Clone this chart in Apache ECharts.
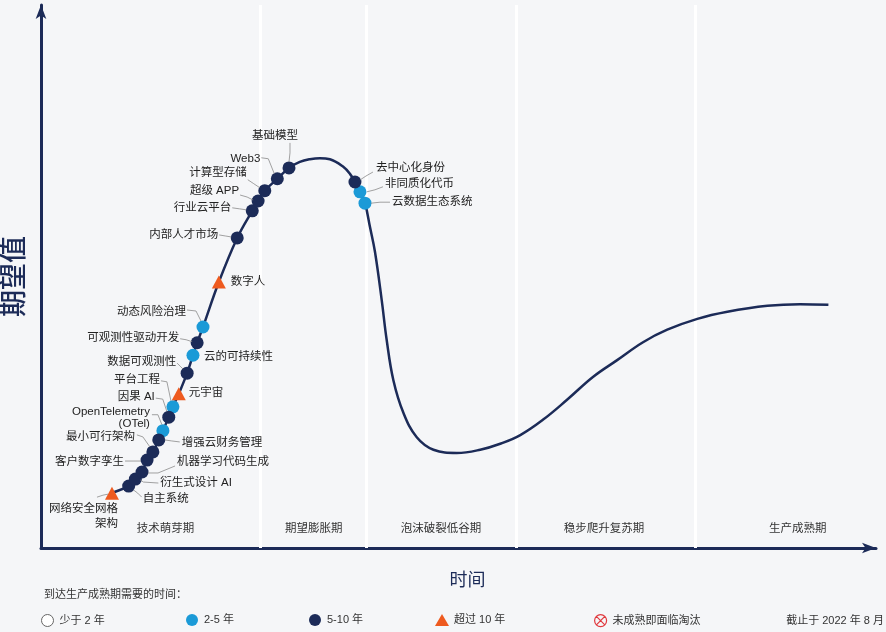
<!DOCTYPE html>
<html>
<head>
<meta charset="utf-8">
<script src="https://cdn.jsdelivr.net/npm/echarts@6/dist/echarts.min.js"></script>
<style>
html,body{margin:0;padding:0;background:#f5f6f8;}
#chart{width:886px;height:632px;}
</style>
</head>
<body>
<div id="chart"></div>
<script>
// ---------------- data ----------------
// hype curve (time 0-100, expectation 0-100)
const curveTime = [8.3,8.5,10.5,11.3,12.1,12.7,13.4,14.1,14.6,15.3,15.8,16.5,17.5,18.2,18.7,19.4,21.3,23.5,25.3,26.0,26.8,28.3,29.7,31.0,32.2,33.4,34.6,36.2,37.0,37.6,38.2,38.8,39.4,40.0,40.8,41.4,42.2,43.4,45.0,47.0,49.8,52.6,55.0,57.4,60.1,63.0,66.1,69.0,72.1,75.0,78.6,82.2,87.0,90.9,94.3];
const curveExpect = [9.8,10.1,11.4,12.7,14.0,16.2,17.7,19.9,21.6,24.1,26.0,28.4,32.2,35.5,37.8,40.7,49.0,57.1,62.1,63.9,65.8,68.0,70.0,71.1,71.6,71.8,71.6,70.2,68.9,67.4,65.6,63.5,59.1,54.5,45.7,38.3,30.9,24.9,20.4,18.1,17.5,18.1,19.2,20.8,23.6,27.3,31.5,34.6,37.9,40.2,42.2,43.5,44.6,44.9,44.8];

const techNames = ['网络安全网格\n架构','自主系统','衍生式设计 AI','机器学习代码生成','客户数字孪生','最小可行架构','增强云财务管理','OpenTelemetry\n(OTel)','因果 AI','平台工程','元宇宙','数据可观测性','云的可持续性','可观测性驱动开发','动态风险治理','数字人','内部人才市场','行业云平台','超级 APP','计算型存储','Web3','基础模型','去中心化身份','非同质化代币','云数据生态系统'];
const techTime = [8.5,10.5,11.3,12.1,12.7,13.4,14.1,14.6,15.3,15.8,16.5,17.5,18.2,18.7,19.4,21.3,23.5,25.3,26.0,26.8,28.3,29.7,37.6,38.2,38.8];
const techExpect = [10.1,11.4,12.7,14.0,16.2,17.7,19.9,21.6,24.1,26.0,28.4,32.2,35.5,37.8,40.7,49.0,57.1,62.1,63.9,65.8,68.0,70.0,67.4,65.6,63.5];
const techMaturity = ['超过 10 年','5-10 年','5-10 年','5-10 年','5-10 年','5-10 年','5-10 年','2-5 年','5-10 年','2-5 年','超过 10 年','5-10 年','2-5 年','5-10 年','2-5 年','超过 10 年','5-10 年','5-10 年','5-10 年','5-10 年','5-10 年','5-10 年','5-10 年','2-5 年','2-5 年'];

const phaseNames = ['技术萌芽期','期望膨胀期','泡沫破裂低谷期','稳步爬升复苏期','生产成熟期'];
const phaseBounds = [0, 26.2, 38.9, 56.9, 78.4, 100];

const legendNames = ['少于 2 年','2-5 年','5-10 年','超过 10 年','未成熟即面临淘汰'];

// ---------------- styling / layout ----------------
const FONT = "'Liberation Sans','Noto Sans CJK SC',sans-serif";
const NAVY = '#1c2b58';
const BLUE = '#1b9ad7';
const ORANGE = '#ee5a1f';
// label anchor offset (px from marker centre), alignment, leader polyline (px offsets)
const LABEL_LAYOUT = [
  [6, 23, 'right', [[-15,4],[-9,2],[-4,1]]],
  [14, 13, 'left', [[13,11],[9,7],[5,4]]],
  [25, 4, 'left', [[23,4],[8,3],[5,1]]],
  [35, -10, 'left', [[33,-6],[16,1],[6,1]]],
  [-23, 2, 'right', [[-22,1],[-14,1],[-6,1]]],
  [-18, -15, 'right', [[-16,-17],[-10,-15],[-3,-5]]],
  [23, 3, 'left', [[21,2],[13,1],[6,0]]],
  [-13, -13, 'right', [[-11,-16],[-5,-16],[-1,-6]]],
  [-14, -20, 'right', [[-13,-19],[-6,-18],[-2,-6]]],
  [-13, -27, 'right', [[-12,-26],[-6,-25],[-2,-6]]],
  [10, -1, 'left', null],
  [-11, -11, 'right', [[-10,-10],[-7,-7],[-4,-4]]],
  [11, 2, 'left', null],
  [-18, -5, 'right', [[-17,-4],[-11,-3],[-5,-1]]],
  [-17, -15, 'right', [[-16,-17],[-7,-16],[-2,-6]]],
  [12, 0, 'left', null],
  [-19, -3, 'right', [[-18,-3],[-12,-2],[-6,-1]]],
  [-21, -3, 'right', [[-20,-3],[-13,-2],[-6,-1]]],
  [-19, -10, 'right', [[-18,-6],[-11,-4],[-5,-1]]],
  [-18, -18, 'right', [[-17,-11],[-11,-7],[-5,-3]]],
  [-17, -20, 'right', [[-16,-21],[-9,-20],[-3,-5]]],
  [-14, -32, 'center', [[1,-25],[1,-15],[0,-6]]],
  [21, -14, 'left', [[18,-10],[11,-6],[5,-2]]],
  [25, -8, 'left', [[23,-5],[15,-2],[7,0]]],
  [27, -1, 'left', [[25,-1],[15,-1],[6,0]]]
];
const PHASE_LABEL_OFFSET = [[15,-8],[1,-8],[0,-8],[-2,-8],[12,-8]];
const LEGEND_LEFT = [41, 186, 309, 435, 594];
const LEGEND_STYLE = {
  '少于 2 年': {icon:'circle', itemStyle:{color:'#ffffff', borderColor:'#666', borderWidth:1}},
  '2-5 年': {icon:'circle', itemStyle:{color:BLUE}},
  '5-10 年': {icon:'circle', itemStyle:{color:NAVY}},
  '超过 10 年': {icon:'triangle', itemStyle:{color:ORANGE}},
  '未成熟即面临淘汰': {icon:'path://M12,2A10,10,0,1,1,11.99,2Z M5,5L19,19 M19,5L5,19', itemStyle:{color:'rgba(0,0,0,0)', borderColor:'#e0393e', borderWidth:1.2}}
};

// ---------------- build ----------------
const chart = echarts.init(document.getElementById('chart'), null, {renderer:'canvas'});

function pointsFor(group) {
  const out = [];
  techNames.forEach((n, i) => { if (techMaturity[i] === group) out.push({name:n, value:[techTime[i], techExpect[i]]}); });
  return out;
}

const series = [
  {
    type:'line', name:'_phases', data:[], z:1, silent:true,
    markArea:{
      silent:true, z:1,
      itemStyle:{color:'rgba(0,0,0,0)'},
      data: phaseNames.map((n, i) => [
        {name:n, xAxis:phaseBounds[i], label:{offset:PHASE_LABEL_OFFSET[i]}},
        {xAxis:phaseBounds[i+1]}
      ]),
      label:{show:true, position:'insideBottom', color:'#333', fontSize:11.5, fontFamily:FONT}
    },
    markLine:{
      silent:true, z:1, symbol:['none','none'],
      lineStyle:{color:'#ffffff', width:3, type:'solid'},
      label:{show:false},
      data: phaseBounds.slice(1, -1).map(v => ({xAxis:v}))
    }
  },
  {
    type:'line', name:'_curve', z:3, silent:true,
    data: curveTime.map((t, i) => [t, curveExpect[i]]),
    smooth:0.4, symbol:'none',
    lineStyle:{color:NAVY, width:2.5}
  },
  {type:'scatter', name:'少于 2 年', data:[], symbol:'circle', symbolSize:13, itemStyle:{color:'#fff', borderColor:'#666', opacity:1}},
  {type:'scatter', name:'2-5 年', data:pointsFor('2-5 年'), symbol:'circle', symbolSize:13, itemStyle:{color:BLUE, opacity:1}, z:5, silent:true},
  {type:'scatter', name:'5-10 年', data:pointsFor('5-10 年'), symbol:'circle', symbolSize:13, itemStyle:{color:NAVY, opacity:1}, z:5, silent:true},
  {type:'scatter', name:'超过 10 年', data:pointsFor('超过 10 年'), symbol:'triangle', symbolSize:[14,13], itemStyle:{color:ORANGE, opacity:1}, z:5, silent:true},
  {type:'scatter', name:'未成熟即面临淘汰', data:[], symbol:'circle', symbolSize:12, itemStyle:{color:'rgba(0,0,0,0)', borderColor:'#e0393e', opacity:1}},
  {
    type:'custom', name:'_labels', z:6, silent:true,
    data: techTime.map((t, i) => [t, techExpect[i]]),
    renderItem: function (params, api) {
      const i = params.dataIndex;
      const p = api.coord([api.value(0), api.value(1)]);
      const L = LABEL_LAYOUT[i];
      const children = [];
      if (L[3]) {
        children.push({
          type:'polyline',
          shape:{points: L[3].map(d => [p[0] + d[0], p[1] + d[1]])},
          style:{stroke:'#8a8a8a', lineWidth:0.8, fill:null}
        });
      }
      children.push({
        type:'text', x:p[0] + L[0], y:p[1] + L[1],
        style:{text:techNames[i], align:L[2], verticalAlign:'middle', fill:'#222',
               fontSize:11.5, fontFamily:FONT, lineHeight:i === 0 ? 15 : 12}
      });
      return {type:'group', children:children};
    }
  }
];

const option = {
  backgroundColor:'#f5f6f8',
  animation:false,
  textStyle:{fontFamily:FONT},
  grid:{left:41, right:10, top:5, bottom:84, containLabel:false, outerBoundsMode:'none'},
  xAxis:{
    type:'value', min:0, max:100,
    axisLine:{show:true, onZero:false, symbol:['none','arrow'], symbolSize:[8,14], lineStyle:{color:NAVY, width:3}},
    axisTick:{show:false}, axisLabel:{show:false}, splitLine:{show:false},
    name:'时间', nameLocation:'middle', nameGap:24,
    nameTextStyle:{fontSize:18, color:NAVY, fontFamily:FONT, padding:[0,0,0,18]}
  },
  yAxis:{
    type:'value', min:0, max:100,
    axisLine:{show:true, onZero:false, symbol:['none','arrow'], symbolSize:[8,14], lineStyle:{color:NAVY, width:3}},
    axisTick:{show:false}, axisLabel:{show:false}, splitLine:{show:false},
    name:'期望值', nameLocation:'middle', nameGap:12, nameRotate:90,
    nameTextStyle:{fontSize:27, color:NAVY, fontFamily:FONT, fontWeight:500}
  },
  title:[
    {text:'到达生产成熟期需要的时间：', left:44, top:589, padding:0,
     textStyle:{fontSize:11, fontWeight:'normal', color:'#333', fontFamily:FONT}},
    {text:'截止于 2022 年 8 月', right:2, top:615, padding:0,
     textStyle:{fontSize:11, fontWeight:'normal', color:'#333', fontFamily:FONT}}
  ],
  legend: legendNames.map((n, i) => ({
    data:[Object.assign({name:n}, LEGEND_STYLE[n])],
    left:LEGEND_LEFT[i], top:614, padding:0, itemWidth:14, itemHeight:12, itemGap:5,
    selectedMode:false,
    textStyle:{fontSize:11, color:'#333', fontFamily:FONT}
  })),
  series: series
};
chart.setOption(option);
</script>
</body>
</html>
